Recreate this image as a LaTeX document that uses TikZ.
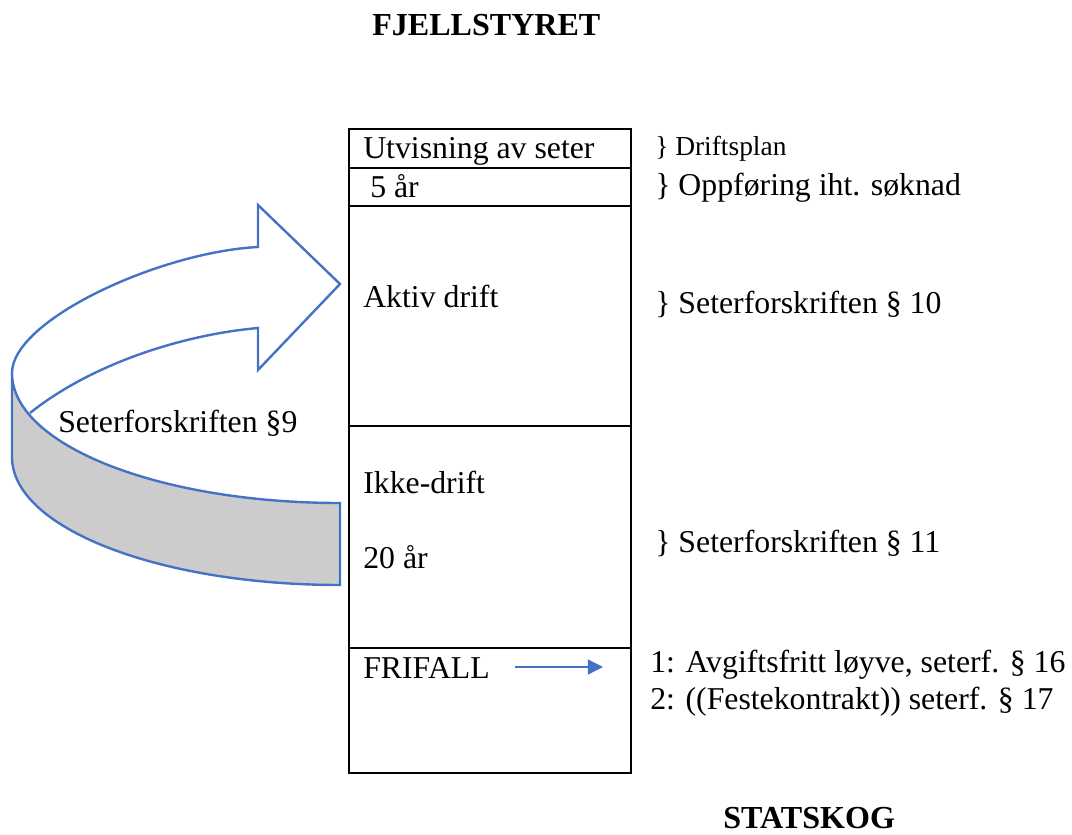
\documentclass[tikz,border=0pt]{standalone}
\usepackage{fontspec}
\setmainfont{Liberation Serif}
\usetikzlibrary{arrows.meta, positioning}
\usepackage{xcolor}
\definecolor{arrowblue}{HTML}{4472C4}
\definecolor{bandgray}{HTML}{CCCCCC}

\begin{document}
\begin{tikzpicture}[
			x=0.025cm, y=-0.025cm,
			cell/.style={draw, line width=1.6pt, minimum width=7.05cm, inner sep=0pt, anchor=north west},
			txt/.style={anchor=base west, inner sep=0pt},
			smalltxt/.style={txt, font=\fontsize{19.5}{23}\selectfont},
			titletxt/.style={txt, font=\fontsize{22.8}{27}\selectfont\bfseries},
			curvearrow/.style={draw=arrowblue, line width=1.7pt, line join=miter},
			flow/.style={draw=arrowblue, line width=0.9pt, -{Triangle[length=0.38cm, width=0.38cm]}},
			font=\fontsize{22.6}{27}\selectfont
			]
			
			\useasboundingbox (0,0) rectangle (1072,835);
			
			% curved arrow
			\path[curvearrow, fill=white] (30,413) .. controls (90,365) and (180,335) .. (258,328)
				-- (258,370) -- (340,284) -- (258,205) -- (258,247)
				.. controls (160,252) and (12,320) .. (12,373);
			\path[curvearrow, fill=bandgray] (12,373) .. controls (12,445) and (159,503) .. (340,503)
				-- (340,585) .. controls (159,585) and (12,528) .. (12,457) -- cycle;
			\node[txt] (s9) at (58,432) {Seterforskriften §9};
			
			% stages
			\node[cell, minimum height=0.975cm] (utv) at (348,128) {};
			\node[cell, minimum height=0.95cm] (fem) at (348,167) {};
			\node[cell, minimum height=5.5cm] (aktiv) at (348,205) {};
			\node[cell, minimum height=5.55cm] (ikke) at (348,425) {};
			\node[cell, minimum height=3.125cm] (fri) at (348,647) {};
			
			\node[txt] (utvT) at (363,158) {Utvisning av seter};
			\node[txt] (femT) at (370,197) {5 år};
			\node[txt] (aktivT) at (363,307) {Aktiv drift};
			\node[txt] (ikkeT) at (363,493) {Ikke-drift};
			\node[txt] (tjueT) at (363,568) {20 år};
			\node[txt] (friT) at (363,678) {FRIFALL};
			
			\coordinate (fa) at (515,667);
			\coordinate (fb) at (603,667);
			\draw[flow] (fa) -- (fb);
			
			% rules
			\node[smalltxt] (r1) at (655,155) {\} Driftsplan};
			\node[txt] (r2) at (655,195) {\} Oppføring iht. søknad};
			\node[txt] (r3) at (655,313) {\} Seterforskriften § 10};
			\node[txt] (r4) at (655,552) {\} Seterforskriften § 11};
			\node[txt] (r5) at (650,672) {1: Avgiftsfritt løyve, seterf. § 16};
			\node[txt] (r6) at (650,709) {2: ((Festekontrakt)) seterf. § 17};
			
			\node[titletxt] (fjell) at (372,35) {FJELLSTYRET};
			\node[titletxt] (stat) at (723,828) {STATSKOG};
			
		\end{tikzpicture}
\end{document}
